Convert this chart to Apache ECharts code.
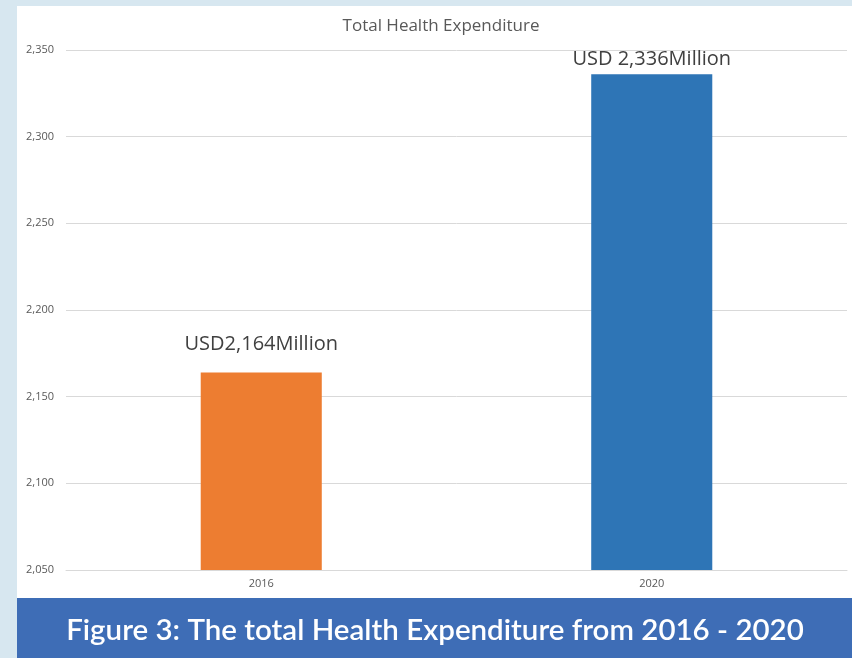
<!DOCTYPE html>
<html>
<head>
<meta charset="utf-8">
<script src="https://cdn.jsdelivr.net/npm/echarts@6/dist/echarts.min.js"></script>
<style>
html,body{margin:0;padding:0;background:#d7e7f0;}
#c{width:852px;height:658px;}
</style>
</head>
<body>
<div id="c"></div>
<script>
const categories = ['2016', '2020'];
const values = [2164, 2336];
const valueLabels = ['USD2,164Million', 'USD 2,336Million'];
const barColors = ['#ed7d31', '#2e75b6'];
const yTicks = [2050, 2100, 2150, 2200, 2250, 2300, 2350];
const chartTitle = 'Total Health Expenditure';
const caption = 'Figure 3: The total Health Expenditure from 2016 - 2020';
const labelDistances = [18, 5];

const chart = echarts.init(document.getElementById('c'));
chart.setOption({
  backgroundColor: '#d7e7f0',
  animation: false,
  graphic: [
    { type: 'rect', shape: { x: 17, y: 6, width: 835, height: 592 }, style: { fill: '#ffffff' }, z: -10 },
    { type: 'rect', shape: { x: 17, y: 598, width: 835, height: 60 }, style: { fill: '#3e6db6' }, z: -10 },
    { type: 'text', x: 435, y: 630, style: { text: caption, fill: '#ffffff', font: '600 29.5px Lato', textAlign: 'center', textVerticalAlign: 'middle' } }
  ],
  title: {
    text: chartTitle, left: 436, top: 13, textAlign: 'center',
    textStyle: { fontFamily: 'Open Sans', fontSize: 17, fontWeight: 'normal', color: '#595959' }
  },
  grid: { left: 66, right: 5, top: 50, bottom: 88 },
  xAxis: {
    type: 'category', data: categories,
    axisLine: { show: true, lineStyle: { color: '#d9d9d9' } },
    axisTick: { show: false },
    axisLabel: { fontFamily: 'Open Sans', fontSize: 11, color: '#595959', margin: 8 }
  },
  yAxis: {
    type: 'value', min: yTicks[0], max: yTicks[yTicks.length - 1], interval: 50,
    axisLine: { show: false }, axisTick: { show: false },
    axisLabel: { fontFamily: 'Open Sans', fontSize: 11, color: '#595959', margin: 12,
      formatter: v => v.toLocaleString('en-US') },
    splitLine: { lineStyle: { color: '#d9d9d9' } }
  },
  series: [{
    type: 'bar', barWidth: '31%',
    data: values.map((v, i) => ({ value: v, itemStyle: { color: barColors[i] },
      label: { formatter: valueLabels[i], distance: labelDistances[i] } })),
    label: { show: true, position: 'top', fontFamily: 'Open Sans', fontSize: 20, color: '#404040' }
  }]
});
</script>
</body>
</html>
